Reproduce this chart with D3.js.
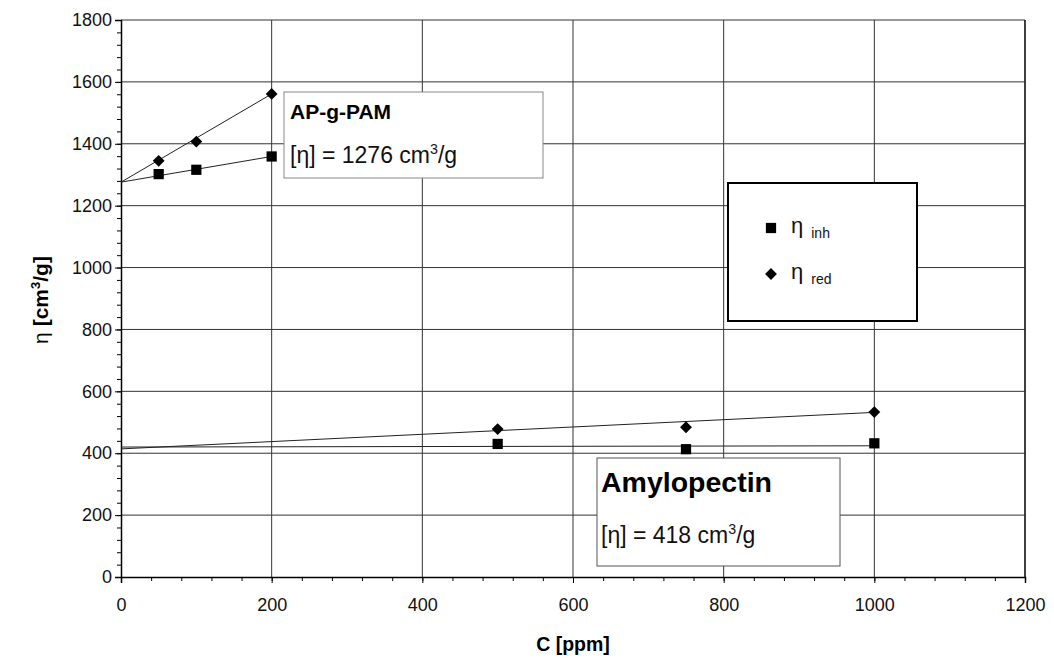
<!DOCTYPE html>
<html>
  <head>
    <script src="https://d3js.org/d3.v7.min.js"></script>
    <style>
      body { margin: 0; background: #fff; }
      text { font-family: "Liberation Sans", Arial, sans-serif; }
    </style>
  </head>
  <body>
    <div id="graph"></div>
  </body>
  <script>

    // data
    var concAP = [50, 100, 200];
    var apInh = [1302, 1316, 1359];
    var apRed = [1345, 1407, 1561];

    var concAmy = [500, 750, 1000];
    var amyInh = [430, 413, 432];
    var amyRed = [478, 484, 533];

    // fitted lines, end points [C, eta]
    var apInhFit = [[0, 1276], [200, 1359]];
    var apRedFit = [[0, 1276], [200, 1561]];
    var amyInhFit = [[0, 420], [1000, 424]];
    var amyRedFit = [[0, 414], [1000, 532]];

    var xTicks = [0, 200, 400, 600, 800, 1000, 1200];
    var yTicks = [0, 200, 400, 600, 800, 1000, 1200, 1400, 1600, 1800];

    var width = 1054, height = 658;
    var margin = {top: 20, right: 29, bottom: 81, left: 121};

    var svg = d3.select("#graph")
                .append("svg")
                .attr("width", width)
                .attr("height", height);

    var x = d3.scaleLinear().domain([0, 1200]).range([margin.left, width - margin.right]);
    var y = d3.scaleLinear().domain([0, 1800]).range([height - margin.bottom, margin.top]);

    // grid
    svg.append("g")
       .selectAll("line")
       .data(xTicks.slice(1))
       .enter().append("line")
       .attr("x1", d => x(d)).attr("x2", d => x(d))
       .attr("y1", y(0)).attr("y2", y(1800))
       .attr("stroke", "#333").attr("stroke-width", 1);

    svg.append("g")
       .selectAll("line")
       .data(yTicks.slice(1))
       .enter().append("line")
       .attr("x1", x(0)).attr("x2", x(1200))
       .attr("y1", d => y(d)).attr("y2", d => y(d))
       .attr("stroke", "#333").attr("stroke-width", 1);

    // minor ticks every 40
    var xMinor = d3.range(0, 1201, 40);
    var yMinor = d3.range(0, 1801, 40);

    svg.append("g")
       .attr("transform", "translate(0," + y(0) + ")")
       .call(d3.axisBottom(x).tickValues(xMinor).tickSize(4).tickFormat(""));
    svg.append("g")
       .attr("transform", "translate(0," + y(0) + ")")
       .call(d3.axisBottom(x).tickValues(xTicks).tickSize(6).tickPadding(15).tickFormat(d3.format("d")))
       .call(g => g.select(".domain").attr("stroke-width", 1.5))
       .selectAll("text")
       .attr("font-size", 18)
       .attr("fill", "#111");

    svg.append("g")
       .attr("transform", "translate(" + x(0) + ",0)")
       .call(d3.axisLeft(y).tickValues(yMinor).tickSize(4).tickFormat(""));
    svg.append("g")
       .attr("transform", "translate(" + x(0) + ",0)")
       .call(d3.axisLeft(y).tickValues(yTicks).tickSize(6).tickPadding(3).tickFormat(d3.format("d")))
       .call(g => g.select(".domain").attr("stroke-width", 1.5))
       .selectAll("text")
       .attr("font-size", 18)
       .attr("fill", "#111");

    // right border of plot
    svg.append("line")
       .attr("x1", x(1200)).attr("x2", x(1200))
       .attr("y1", y(0)).attr("y2", y(1800))
       .attr("stroke", "#222").attr("stroke-width", 1.5);

    // fit lines
    var line = d3.line().x(d => x(d[0])).y(d => y(d[1]));
    [apInhFit, apRedFit, amyInhFit, amyRedFit].forEach(function(f) {
      svg.append("path")
         .attr("d", line(f))
         .attr("fill", "none")
         .attr("stroke", "#222")
         .attr("stroke-width", 1);
    });

    // markers
    var square = d3.symbol().type(d3.symbolSquare).size(105);
    var diamond = d3.symbol().type(d3.symbolSquare).size(70);

    function addPoints(cs, vs, sym, rot) {
      svg.append("g")
         .selectAll("path")
         .data(cs)
         .enter().append("path")
         .attr("d", sym)
         .attr("transform", (d, i) => "translate(" + x(d) + "," + y(vs[i]) + ") rotate(" + rot + ")")
         .attr("fill", "#000");
    }
    addPoints(concAP, apInh, square, 0);
    addPoints(concAP, apRed, diamond, 45);
    addPoints(concAmy, amyInh, square, 0);
    addPoints(concAmy, amyRed, diamond, 45);

    // annotation boxes
    function box(x0, y0, x1, y1, stroke, sw) {
      svg.append("rect")
         .attr("x", x0).attr("y", y0)
         .attr("width", x1 - x0).attr("height", y1 - y0)
         .attr("fill", "#fff")
         .attr("stroke", stroke)
         .attr("stroke-width", sw);
    }

    function etaLine(g, tx, ty, fs, value) {
      var t = g.append("text")
               .attr("x", tx).attr("y", ty)
               .attr("font-size", fs)
               .attr("fill", "#111");
      t.append("tspan").text("[η] = " + value + " cm");
      t.append("tspan").attr("dy", -fs * 0.4).attr("font-size", fs * 0.62).text("3");
      t.append("tspan").attr("dy", fs * 0.4).text("/g");
    }

    // AP-g-PAM
    box(284, 92, 543, 178, "#888", 1);
    svg.append("text")
       .attr("x", 290).attr("y", 119)
       .attr("font-size", 21).attr("font-weight", "bold")
       .text("AP-g-PAM");
    etaLine(svg, 290, 163, 23, 1276);

    // Amylopectin
    box(597, 458, 840, 566, "#555", 1);
    svg.append("text")
       .attr("x", 601).attr("y", 492)
       .attr("font-size", 28.5).attr("font-weight", "bold")
       .text("Amylopectin");
    etaLine(svg, 601, 543, 23, 418);

    // legend
    box(728, 183, 917, 321, "#000", 2);
    var legendItems = [
      {sym: square, rot: 0, sub: "inh"},
      {sym: diamond, rot: 45, sub: "red"}
    ];
    var legend = svg.selectAll(".legend")
                    .data(legendItems)
                    .enter().append("g")
                    .attr("class", "legend")
                    .attr("transform", (d, i) => "translate(771," + (228 + i * 46) + ")");
    legend.append("path")
          .attr("d", d => d.sym())
          .attr("transform", d => "rotate(" + d.rot + ")")
          .attr("fill", "#000");
    var lt = legend.append("text")
                   .attr("x", 20).attr("y", 5)
                   .attr("fill", "#111");
    lt.append("tspan").attr("font-size", 22).text("η");
    lt.append("tspan").attr("dx", 8).attr("dy", 5).attr("font-size", 14).text(d => d.sub);

    // axis titles
    svg.append("text")
       .attr("x", x(600)).attr("y", 651)
       .attr("text-anchor", "middle")
       .attr("font-size", 19.5).attr("font-weight", "bold")
       .text("C [ppm]");

    var yt = svg.append("text")
                .attr("transform", "translate(48,300) rotate(-90)")
                .attr("text-anchor", "middle")
                .attr("font-size", 21).attr("font-weight", "bold");
    yt.append("tspan").attr("font-weight", "normal").text("η");
    yt.append("tspan").text(" [cm");
    yt.append("tspan").attr("dy", -8).attr("font-size", 13).text("3");
    yt.append("tspan").attr("dy", 8).text("/g]");

  </script>
</html>
